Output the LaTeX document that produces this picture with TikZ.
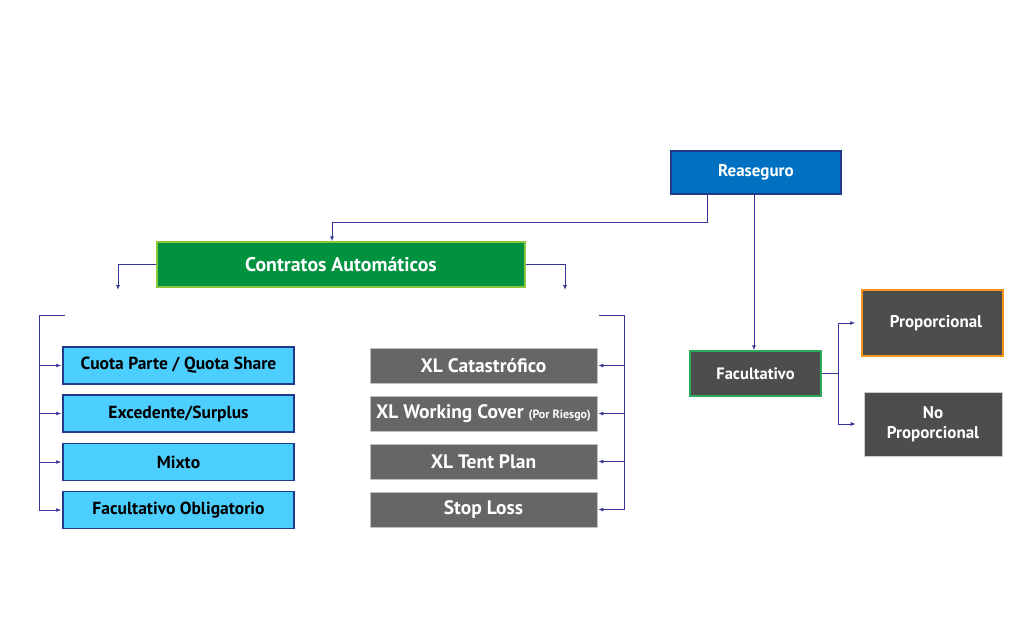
\documentclass[tikz,border=0pt]{standalone}
\usepackage{fontspec}
\setmainfont{PT Sans}
\usetikzlibrary{arrows.meta}
\definecolor{lnc}{HTML}{34349A}
\definecolor{reablue}{HTML}{0070C0}
\definecolor{reaborder}{HTML}{1F3A8A}
\definecolor{cgreen}{HTML}{00923F}
\definecolor{cgreenb}{HTML}{8DC63F}
\definecolor{lblue}{HTML}{4CCFFF}
\definecolor{lblueb}{HTML}{1F3A8A}
\definecolor{gbox}{HTML}{666666}
\definecolor{dbox}{HTML}{4D4D4D}
\definecolor{fgreen}{HTML}{2BAA5C}
\definecolor{orng}{HTML}{F7941D}
\tikzset{
  box/.style={rectangle, inner sep=0pt, align=center, font=\bfseries\fontsize{17.5}{19}\selectfont},
  gbx/.style={box, fill=gbox, text=white, draw=gray!50, line width=0.5pt, minimum width=227pt, minimum height=35pt, font=\bfseries\fontsize{19.5}{21}\selectfont},
  conn/.style={draw=lnc, line width=0.9pt, -{Latex[length=5pt,width=4pt]}},
  plain/.style={draw=lnc, line width=0.9pt},
}
\begin{document}
\begin{tikzpicture}[x=1pt,y=-1pt]
\useasboundingbox (0,0) rectangle (1024,620);
% Reaseguro
\node[box, draw=reaborder, line width=1.5pt, fill=reablue, text=white, minimum width=170pt, minimum height=43pt, font=\bfseries\fontsize{17}{19}\selectfont] (rea) at (756,172.5) {Reaseguro};
% Contratos
\node[box, draw=cgreenb, line width=1.5pt, fill=cgreen, text=white, minimum width=368pt, minimum height=45pt, font=\bfseries\fontsize{19.8}{21}\selectfont] (ca) at (341,264.5) {Contratos Automáticos};
% Facultativo
\node[box, draw=fgreen, line width=1.5pt, fill=dbox, text=white, minimum width=131pt, minimum height=45pt, font=\bfseries\fontsize{16.5}{18}\selectfont] (fac) at (755.5,373.5) {Facultativo};
\node[box, draw=orng, line width=1.5pt, fill=dbox, text=white, minimum width=141pt, minimum height=66pt, font=\bfseries\fontsize{17}{19}\selectfont] (prop) at (932.5,323) {\hspace*{7pt}Proporcional};
\node[box, draw=gray!40, line width=0.6pt, fill=dbox, text=white, minimum width=138pt, minimum height=64pt, font=\bfseries\fontsize{17}{19.5}\selectfont] (noprop) at (933,424) {No\\Proporcional};
% light blue boxes
\foreach \n/\y/\t in {b1/365.5/{Cuota Parte / Quota Share}, b2/413.5/{Excedente/Surplus}, b3/462/{Mixto}, b4/510/{Facultativo Obligatorio}}{
  \node[box, draw=lblueb, line width=1.5pt, fill=lblue, text=black, minimum width=231pt, minimum height=37pt] (\n) at (178.5,\y) {\t};
}
% gray boxes
\node[gbx] (g1) at (483.5,365.5) {XL Catastrófico};
\node[gbx] (g2) at (483.5,413.5) {XL Working Cover {\fontsize{12}{13}\selectfont(Por Riesgo)}};
\node[gbx] (g3) at (483.5,461.5) {XL Tent Plan};
\node[gbx] (g4) at (483.5,509.5) {Stop Loss};
% coordinates
\coordinate (la) at (118,290);
\coordinate (ra) at (565,290);
\coordinate (lb) at (39,315);
\coordinate (lbe) at (65,315);
\coordinate (rb) at (624,315);
\coordinate (rbe) at (599,315);
\coordinate (fj) at (838,373.5);
% connectors
\draw[conn] (rea.south -| 707,0) |- (332,222) -- (ca.north -| 332,0);
\draw[conn] (rea.south -| 754,0) -- (fac.north -| 754,0);
\draw[conn] (ca.west) -| (la);
\draw[conn] (ca.east) -| (ra);
\draw[plain] (lbe) -- (lb) -- (lb |- b4.west);
\foreach \n in {b1,b2,b3,b4}{ \draw[conn] (lb |- \n.west) -- ([xshift=-1pt]\n.west); }
\draw[plain] (rbe) -- (rb) -- (rb |- g4.east);
\foreach \n in {g1,g2,g3,g4}{ \draw[conn] (rb |- \n.east) -- ([xshift=1pt]\n.east); }
\draw[plain] (fac.east) -- (fj);
\draw[conn] (fj) |- ([xshift=-6pt]prop.west);
\draw[conn] (fj) |- ([xshift=-8pt]noprop.west);
\end{tikzpicture}
\end{document}
